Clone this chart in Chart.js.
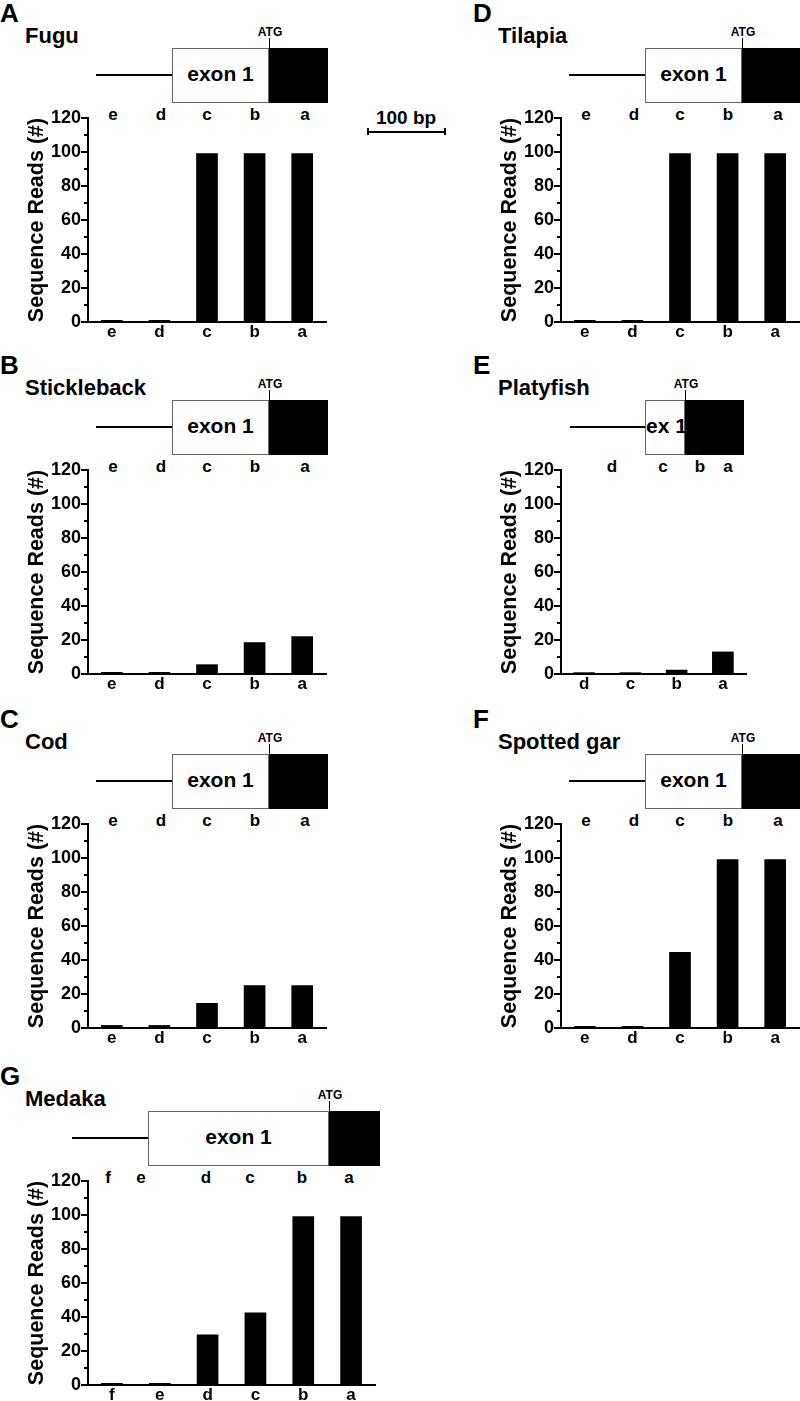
<!DOCTYPE html>
<html>
<head>
<meta charset="utf-8">
<script src="https://cdn.jsdelivr.net/npm/chart.js@4.4.0/dist/chart.umd.min.js"></script>
<style>
  html, body { margin:0; padding:0; background:#fff; }
  body { width:800px; height:1401px; position:relative; overflow:hidden;
         font-family:"Liberation Sans", Arial, sans-serif; font-weight:bold; color:#000; }
  .t { position:absolute; white-space:nowrap; line-height:1; }
  .blk { position:absolute; background:#000; }
  .exon { position:absolute; background:#fff; border:1.2px solid #666; box-sizing:border-box; }
  canvas { position:absolute; }
</style>
</head>
<body>
<script>
// y axis: 0..120, labels every 20, minor ticks every 10
const yMax = 120;
const yMajor = 20;
const yMinor = 10;

const fuguSites = ['e', 'd', 'c', 'b', 'a'];
const fuguReads = [1, 1, 99, 99, 99];

const sticklebackSites = ['e', 'd', 'c', 'b', 'a'];
const sticklebackReads = [1, 1, 5.5, 18.5, 22];

const codSites = ['e', 'd', 'c', 'b', 'a'];
const codReads = [1.5, 1.5, 14.5, 25, 25];

const tilapiaSites = ['e', 'd', 'c', 'b', 'a'];
const tilapiaReads = [1, 1, 99, 99, 99];

const platyfishSites = ['d', 'c', 'b', 'a'];
const platyfishReads = [0.8, 0.8, 2.3, 13];

const garSites = ['e', 'd', 'c', 'b', 'a'];
const garReads = [1, 1, 44.5, 99, 99];

const medakaSites = ['f', 'e', 'd', 'c', 'b', 'a'];
const medakaReads = [1, 1, 29.5, 42.5, 99, 99];

const AXIS_X = 88;   // y axis position inside a panel
const stdGene = { line: [96, 172], exon: [172, 269], cds: [269, 328], label: 'exon 1' };
const stdTop = [113, 161, 207, 255, 305];

const panels = [
  { tag: 'A', name: 'Fugu',        sites: fuguSites,        reads: fuguReads,        x: 0,   y: 0,    plotW: 238, gene: stdGene, top: stdTop },
  { tag: 'B', name: 'Stickleback', sites: sticklebackSites, reads: sticklebackReads, x: 0,   y: 352,  plotW: 238, gene: stdGene, top: stdTop },
  { tag: 'C', name: 'Cod',         sites: codSites,         reads: codReads,         x: 0,   y: 706,  plotW: 238, gene: stdGene, top: stdTop },
  { tag: 'D', name: 'Tilapia',     sites: tilapiaSites,     reads: tilapiaReads,     x: 473, y: 0,    plotW: 238, gene: stdGene, top: stdTop },
  { tag: 'E', name: 'Platyfish',   sites: platyfishSites,   reads: platyfishReads,   x: 473, y: 352,  plotW: 185,
    gene: { line: [97, 172], exon: [172, 212], cds: [212, 271], label: 'ex 1', labelLeft: true }, top: [139, 190, 227, 255] },
  { tag: 'F', name: 'Spotted gar', sites: garSites,         reads: garReads,         x: 473, y: 706,  plotW: 238, gene: stdGene, top: stdTop },
  { tag: 'G', name: 'Medaka',      sites: medakaSites,      reads: medakaReads,      x: 0,   y: 1063, plotW: 287,
    gene: { line: [72, 148], exon: [148, 329], cds: [329, 380], label: 'exon 1' }, top: [108, 141, 206, 250, 302, 349] }
];

function text(str, x, base, size, center){
  const d = document.createElement('div');
  d.className = 't';
  d.textContent = str;
  d.style.fontSize = size + 'px';
  d.style.top = (base - 0.8465 * size) + 'px';
  d.style.left = x + 'px';
  if(center) d.style.transform = 'translateX(-50%)';
  document.body.appendChild(d);
  return d;
}

function box(cls, x, y, w, h){
  const d = document.createElement('div');
  d.className = cls;
  d.style.left = x + 'px'; d.style.top = y + 'px';
  d.style.width = w + 'px'; d.style.height = h + 'px';
  document.body.appendChild(d);
  return d;
}

// tick marks on the y axis, long for labelled values and short in between
const yTickMarks = {
  id: 'yTickMarks',
  afterDraw(chart){
    const s = chart.scales.y, ctx = chart.ctx;
    ctx.save();
    ctx.strokeStyle = '#000';
    ctx.lineWidth = 2;
    s.ticks.forEach(t => {
      const py = Math.round(s.getPixelForValue(t.value));
      const len = t.value % yMajor === 0 ? 7 : 4;
      ctx.beginPath();
      ctx.moveTo(s.right - len, py);
      ctx.lineTo(s.right, py);
      ctx.stroke();
    });
    ctx.restore();
  }
};

const tickFont = { family: '"Liberation Sans", Arial, sans-serif', size: 18, weight: 'bold', lineHeight: 1 };
const titleFont = { family: '"Liberation Sans", Arial, sans-serif', size: 21.5, weight: 'bold', lineHeight: 1 };

function drawPanel(p){
  const ox = p.x, oy = p.y, g = p.gene;

  text(p.tag, ox, oy + 22.5, 26, false);
  text(p.name, ox + 25, oy + 43.3, 22, false);

  // gene model
  box('blk', ox + g.line[0], oy + 74, g.line[1] - g.line[0], 2);
  box('exon', ox + g.exon[0], oy + 48, g.exon[1] - g.exon[0], 55);
  box('blk', ox + g.cds[0], oy + 48, g.cds[1] - g.cds[0], 55);
  box('blk', ox + g.cds[0] - 0.5, oy + 38, 1.3, 10);
  text('ATG', ox + g.cds[0] + 1, oy + 36, 12, true);
  if(g.labelLeft) text(g.label, ox + g.exon[0] + 1, oy + 81, 21, false);
  else text(g.label, ox + (g.exon[0] + g.exon[1]) / 2, oy + 81, 21, true);

  p.sites.forEach((s, i) => text(s, ox + p.top[i], oy + 120, 17, true));

  const W = AXIS_X + p.plotW + 4, H = 244;
  const c = document.createElement('canvas');
  c.width = W; c.height = H;
  c.style.left = ox + 'px'; c.style.top = (oy + 100) + 'px';
  c.style.width = W + 'px'; c.style.height = H + 'px';
  document.body.appendChild(c);

  new Chart(c.getContext('2d'), {
    type: 'bar',
    data: {
      labels: p.sites,
      datasets: [{ data: p.reads, backgroundColor: '#000', borderWidth: 0, barThickness: 21 }]
    },
    options: {
      responsive: false,
      animation: false,
      devicePixelRatio: 1,
      layout: { padding: { top: 18, right: 4, left: 0, bottom: 0 } },
      plugins: { legend: { display: false }, tooltip: { enabled: false } },
      scales: {
        x: {
          offset: true,
          grid: { display: false, drawTicks: false },
          border: { display: true, color: '#000', width: 2 },
          ticks: { color: '#000', font: { ...tickFont, size: 17 }, padding: 2, maxRotation: 0, autoSkip: false },
          afterFit: s => { s.height = 22; }
        },
        y: {
          min: 0, max: yMax,
          grid: { display: false, drawTicks: false },
          border: { display: true, color: '#000', width: 2 },
          ticks: { stepSize: yMinor, color: '#000', font: tickFont, padding: 7, autoSkip: false,
                   callback: v => v % yMajor === 0 ? v : '' },
          title: { display: true, text: 'Sequence Reads (#)', color: '#000', font: titleFont,
                   padding: { top: 26, bottom: 0 } },
          afterFit: s => { s.width = AXIS_X; }
        }
      }
    },
    plugins: [yTickMarks]
  });
}

panels.forEach(drawPanel);

// scale bar
text('100 bp', 406, 124, 19, true);
box('blk', 367, 131, 78, 1.5);
box('blk', 367, 128, 1.5, 7);
box('blk', 444, 128, 1.5, 7);
</script>
</body>
</html>
